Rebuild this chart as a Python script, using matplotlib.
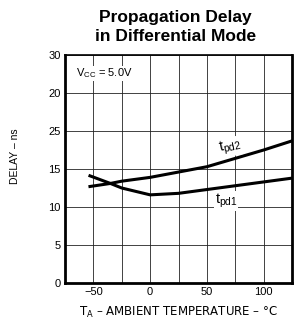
import matplotlib
matplotlib.use("Agg")
import matplotlib.pyplot as plt
import numpy as np

plt.rcParams['font.family'] = ['Liberation Sans', 'DejaVu Sans']

temp = [-53, -35, -25, 0, 25, 50, 75, 100, 125]
tpd2 = [12.7, 13.1, 13.4, 13.9, 14.6, 15.3, 16.4, 17.5, 18.7]
tpd1 = [14.1, 13.1, 12.5, 11.6, 11.8, 12.3, 12.8, 13.3, 13.8]
yticks = [0, 5, 10, 15, 20, 25, 30]
ytick_labels = ["0", "5", "10", "15", "25", "20", "30"]
xticks = [-50, 0, 50, 100]

fig = plt.figure(figsize=(3.03, 3.25), dpi=100)
ax = fig.add_axes([0.2145, 0.129, 0.7495, 0.702])

ax.set_xlim(-75, 125)
ax.set_ylim(0, 30)
ax.set_xticks(np.arange(-75, 126, 25), minor=True)
ax.set_xticks(xticks)
ax.set_xticklabels([f"\u2212{-t}" if t < 0 else str(t) for t in xticks], fontsize=8)
ax.set_yticks(yticks)
ax.set_yticklabels(ytick_labels, fontsize=8)
ax.grid(True, which='both', color='#222222', linewidth=0.6)
ax.tick_params(which='both', length=0, pad=3)

for s in ['left', 'bottom', 'right']:
    ax.spines[s].set_linewidth(2.0)
ax.spines['top'].set_linewidth(1.2)

ax.plot(temp, tpd2, color='black', linewidth=2.2)
ax.plot(temp, tpd1, color='black', linewidth=2.2)

ax.text(59, 17.9, r'$\mathregular{t_{pd2}}$', fontsize=10.5, ha='left', va='center',
        rotation=12, bbox=dict(facecolor='white', edgecolor='none', pad=0.3))
ax.text(57, 10.8, r'$\mathregular{t_{pd1}}$', fontsize=10.5, ha='left', va='center',
        bbox=dict(facecolor='white', edgecolor='none', pad=0.3))
ax.text(-65.5, 27.6, r'$\mathregular{V_{CC}}$ = 5.0V', fontsize=8, ha='left', va='center',
        bbox=dict(facecolor='white', edgecolor='none', pad=0.5))

fig.text(0.578, 0.968, "Propagation Delay\nin Differential Mode", ha='center', va='top',
         fontsize=12.5, fontweight='bold', linespacing=1.3)
fig.text(0.05, 0.52, "DELAY \u2013 ns", rotation=90, ha='center', va='center', fontsize=7.5)
fig.text(0.59, 0.04, r"$\mathregular{T_A}$ " + "\u2013 AMBIENT TEMPERATURE \u2013 \u00b0C",
         ha='center', va='center', fontsize=8.5, family=['DejaVu Sans'])

fig.savefig("out.png", dpi=100)
